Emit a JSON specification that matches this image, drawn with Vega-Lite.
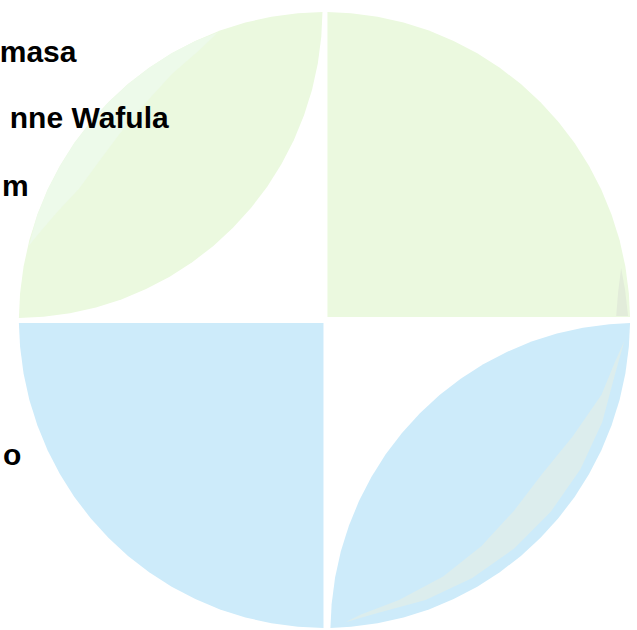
{
  "$schema": "https://vega.github.io/schema/vega-lite/v6.json",
  "width": 637,
  "height": 630,
  "autosize": {"type": "fit", "contains": "padding"},
  "padding": 0,
  "background": "white",
  "config": {"view": {"stroke": null}},
  "datasets": {
    "shapes": [
      {"s":"tr","i":0,"x":325,"y":317},{"s":"tr","i":1,"x":325,"y":12},{"s":"tr","i":2,"x":348.8,"y":13.2},{"s":"tr","i":3,"x":375.5,"y":16.7},{"s":"tr","i":4,"x":401.7,"y":22.5},{"s":"tr","i":5,"x":427.3,"y":30.6},{"s":"tr","i":6,"x":452.2,"y":40.9},{"s":"tr","i":7,"x":476,"y":53.3},{"s":"tr","i":8,"x":498.7,"y":67.7},{"s":"tr","i":9,"x":520,"y":84.1},{"s":"tr","i":10,"x":539.8,"y":102.2},{"s":"tr","i":11,"x":557.9,"y":122},{"s":"tr","i":12,"x":574.3,"y":143.3},{"s":"tr","i":13,"x":588.7,"y":166},{"s":"tr","i":14,"x":601.1,"y":189.8},{"s":"tr","i":15,"x":611.4,"y":214.7},{"s":"tr","i":16,"x":619.5,"y":240.3},{"s":"tr","i":17,"x":625.3,"y":266.5},{"s":"tr","i":18,"x":628.8,"y":293.2},{"s":"tr","i":19,"x":630,"y":317},
      {"s":"tl","i":0,"x":320,"y":12},{"s":"tl","i":1,"x":295.2,"y":13.2},{"s":"tl","i":2,"x":268.5,"y":16.7},{"s":"tl","i":3,"x":242.3,"y":22.5},{"s":"tl","i":4,"x":216.7,"y":30.6},{"s":"tl","i":5,"x":191.8,"y":40.9},{"s":"tl","i":6,"x":168,"y":53.3},{"s":"tl","i":7,"x":145.3,"y":67.7},{"s":"tl","i":8,"x":124,"y":84.1},{"s":"tl","i":9,"x":104.2,"y":102.2},{"s":"tl","i":10,"x":86.1,"y":122},{"s":"tl","i":11,"x":69.7,"y":143.3},{"s":"tl","i":12,"x":55.3,"y":166},{"s":"tl","i":13,"x":42.9,"y":189.8},{"s":"tl","i":14,"x":32.6,"y":214.7},{"s":"tl","i":15,"x":24.5,"y":240.3},{"s":"tl","i":16,"x":18.7,"y":266.5},{"s":"tl","i":17,"x":15.2,"y":293.2},{"s":"tl","i":18,"x":14,"y":318},{"s":"tl","i":19,"x":38.8,"y":316.8},{"s":"tl","i":20,"x":65.5,"y":313.3},{"s":"tl","i":21,"x":91.7,"y":307.5},{"s":"tl","i":22,"x":117.3,"y":299.4},{"s":"tl","i":23,"x":142.2,"y":289.1},{"s":"tl","i":24,"x":166,"y":276.7},{"s":"tl","i":25,"x":188.7,"y":262.3},{"s":"tl","i":26,"x":210,"y":245.9},{"s":"tl","i":27,"x":229.8,"y":227.8},{"s":"tl","i":28,"x":247.9,"y":208},{"s":"tl","i":29,"x":264.3,"y":186.7},{"s":"tl","i":30,"x":278.7,"y":164},{"s":"tl","i":31,"x":291.1,"y":140.2},{"s":"tl","i":32,"x":301.4,"y":115.3},{"s":"tl","i":33,"x":309.5,"y":89.7},{"s":"tl","i":34,"x":315.3,"y":63.5},{"s":"tl","i":35,"x":318.8,"y":36.8},
      {"s":"tlb","i":0,"x":214.5,"y":32.4},{"s":"tlb","i":1,"x":191.8,"y":40.9},{"s":"tlb","i":2,"x":168,"y":53.3},{"s":"tlb","i":3,"x":145.3,"y":67.7},{"s":"tlb","i":4,"x":124,"y":84.1},{"s":"tlb","i":5,"x":104.2,"y":102.2},{"s":"tlb","i":6,"x":86.1,"y":122},{"s":"tlb","i":7,"x":69.7,"y":143.3},{"s":"tlb","i":8,"x":55.3,"y":166},{"s":"tlb","i":9,"x":42.9,"y":189.8},{"s":"tlb","i":10,"x":32.6,"y":214.7},{"s":"tlb","i":11,"x":24.1,"y":245.7},{"s":"tlb","i":12,"x":35.1,"y":232.3},{"s":"tlb","i":13,"x":53.1,"y":211.4},{"s":"tlb","i":14,"x":74.8,"y":188.5},{"s":"tlb","i":15,"x":95.1,"y":161.1},{"s":"tlb","i":16,"x":115.4,"y":134},{"s":"tlb","i":17,"x":140.7,"y":104},{"s":"tlb","i":18,"x":168.3,"y":74.1},{"s":"tlb","i":19,"x":196.1,"y":49.9},
      {"s":"trs","i":0,"x":621,"y":268},{"s":"trs","i":1,"x":625,"y":290},{"s":"trs","i":2,"x":628,"y":316},{"s":"trs","i":3,"x":616,"y":316},{"s":"trs","i":4,"x":618,"y":292},
      {"s":"bl","i":0,"x":321,"y":323},{"s":"bl","i":1,"x":14,"y":323},{"s":"bl","i":2,"x":15.2,"y":346.8},{"s":"bl","i":3,"x":18.7,"y":373.5},{"s":"bl","i":4,"x":24.5,"y":399.7},{"s":"bl","i":5,"x":32.6,"y":425.3},{"s":"bl","i":6,"x":42.9,"y":450.2},{"s":"bl","i":7,"x":55.3,"y":474},{"s":"bl","i":8,"x":69.7,"y":496.7},{"s":"bl","i":9,"x":86.1,"y":518},{"s":"bl","i":10,"x":104.2,"y":537.8},{"s":"bl","i":11,"x":124,"y":555.9},{"s":"bl","i":12,"x":145.3,"y":572.3},{"s":"bl","i":13,"x":168,"y":586.7},{"s":"bl","i":14,"x":191.8,"y":599.1},{"s":"bl","i":15,"x":216.7,"y":609.4},{"s":"bl","i":16,"x":242.3,"y":617.5},{"s":"bl","i":17,"x":268.5,"y":623.3},{"s":"bl","i":18,"x":295.2,"y":626.8},{"s":"bl","i":19,"x":321,"y":628},
      {"s":"br","i":0,"x":630,"y":323},{"s":"br","i":1,"x":628.8,"y":346.8},{"s":"br","i":2,"x":625.3,"y":373.5},{"s":"br","i":3,"x":619.5,"y":399.7},{"s":"br","i":4,"x":611.4,"y":425.3},{"s":"br","i":5,"x":601.1,"y":450.2},{"s":"br","i":6,"x":588.7,"y":474},{"s":"br","i":7,"x":574.3,"y":496.7},{"s":"br","i":8,"x":557.9,"y":518},{"s":"br","i":9,"x":539.8,"y":537.8},{"s":"br","i":10,"x":520,"y":555.9},{"s":"br","i":11,"x":498.7,"y":572.3},{"s":"br","i":12,"x":476,"y":586.7},{"s":"br","i":13,"x":452.2,"y":599.1},{"s":"br","i":14,"x":427.3,"y":609.4},{"s":"br","i":15,"x":401.7,"y":617.5},{"s":"br","i":16,"x":375.5,"y":623.3},{"s":"br","i":17,"x":348.8,"y":626.8},{"s":"br","i":18,"x":328,"y":628},{"s":"br","i":19,"x":329.2,"y":604.2},{"s":"br","i":20,"x":332.7,"y":577.5},{"s":"br","i":21,"x":338.5,"y":551.3},{"s":"br","i":22,"x":346.6,"y":525.7},{"s":"br","i":23,"x":356.9,"y":500.8},{"s":"br","i":24,"x":369.3,"y":477},{"s":"br","i":25,"x":383.7,"y":454.3},{"s":"br","i":26,"x":400.1,"y":433},{"s":"br","i":27,"x":418.2,"y":413.2},{"s":"br","i":28,"x":438,"y":395.1},{"s":"br","i":29,"x":459.3,"y":378.7},{"s":"br","i":30,"x":482,"y":364.3},{"s":"br","i":31,"x":505.8,"y":351.9},{"s":"br","i":32,"x":530.7,"y":341.6},{"s":"br","i":33,"x":556.3,"y":333.5},{"s":"br","i":34,"x":582.5,"y":327.7},{"s":"br","i":35,"x":609.2,"y":324.2},
      {"s":"brb","i":0,"x":624.3,"y":341.1},{"s":"brb","i":1,"x":615.5,"y":371.7},{"s":"brb","i":2,"x":602,"y":421.9},{"s":"brb","i":3,"x":580.1,"y":469},{"s":"brb","i":4,"x":550.3,"y":511.5},{"s":"brb","i":5,"x":513.5,"y":548.3},{"s":"brb","i":6,"x":471,"y":578.1},{"s":"brb","i":7,"x":423.9,"y":600},{"s":"brb","i":8,"x":373.7,"y":613.5},{"s":"brb","i":9,"x":343.1,"y":622.3},{"s":"brb","i":10,"x":358.2,"y":614.8},{"s":"brb","i":11,"x":397.1,"y":600.1},{"s":"brb","i":12,"x":441.6,"y":576.5},{"s":"brb","i":13,"x":480.3,"y":546.1},{"s":"brb","i":14,"x":512.9,"y":510.9},{"s":"brb","i":15,"x":541.5,"y":473.7},{"s":"brb","i":16,"x":572.1,"y":436.6},{"s":"brb","i":17,"x":601.2,"y":394.8},{"s":"brb","i":18,"x":615.1,"y":361.2}
    ],
    "labels": [
      {"t":"masa","x":72,"y":62},
      {"t":"nne Wafula","x":165,"y":128},
      {"t":"m","x":24,"y":196},
      {"t":"o","x":16.5,"y":465}
    ]
  },
  "encoding": {
    "x": {"field": "x", "type": "quantitative", "axis": null, "scale": {"domain": [0, 637], "nice": false, "zero": false}},
    "y": {"field": "y", "type": "quantitative", "axis": null, "scale": {"domain": [0, 630], "nice": false, "zero": false, "reverse": true}}
  },
  "layer": [
    {"data": {"name": "shapes"}, "transform": [{"filter": "datum.s === 'tr'"}], "mark": {"type": "line", "filled": true, "interpolate": "linear-closed", "color": "#EBF9DF"}, "encoding": {"order": {"field": "i", "type": "quantitative"}}},
    {"data": {"name": "shapes"}, "transform": [{"filter": "datum.s === 'trs'"}], "mark": {"type": "line", "filled": true, "interpolate": "linear-closed", "color": "#E2ECDA"}, "encoding": {"order": {"field": "i", "type": "quantitative"}}},
    {"data": {"name": "shapes"}, "transform": [{"filter": "datum.s === 'tl'"}], "mark": {"type": "line", "filled": true, "interpolate": "linear-closed", "color": "#EBF9DF"}, "encoding": {"order": {"field": "i", "type": "quantitative"}}},
    {"data": {"name": "shapes"}, "transform": [{"filter": "datum.s === 'tlb'"}], "mark": {"type": "line", "filled": true, "interpolate": "linear-closed", "color": "#EDFAEA"}, "encoding": {"order": {"field": "i", "type": "quantitative"}}},
    {"data": {"name": "shapes"}, "transform": [{"filter": "datum.s === 'bl'"}], "mark": {"type": "line", "filled": true, "interpolate": "linear-closed", "color": "#CDEBFA"}, "encoding": {"order": {"field": "i", "type": "quantitative"}}},
    {"data": {"name": "shapes"}, "transform": [{"filter": "datum.s === 'br'"}], "mark": {"type": "line", "filled": true, "interpolate": "linear-closed", "color": "#CDEBFA"}, "encoding": {"order": {"field": "i", "type": "quantitative"}}},
    {"data": {"name": "shapes"}, "transform": [{"filter": "datum.s === 'brb'"}], "mark": {"type": "line", "filled": true, "interpolate": "linear-closed", "color": "#DCEDED"}, "encoding": {"order": {"field": "i", "type": "quantitative"}}},
    {"data": {"name": "labels"}, "mark": {"type": "text", "align": "right", "baseline": "alphabetic", "font": "Liberation Sans", "fontWeight": "bold", "fontSize": 30, "color": "#000000"}, "encoding": {"text": {"field": "t"}}}
  ]
}
